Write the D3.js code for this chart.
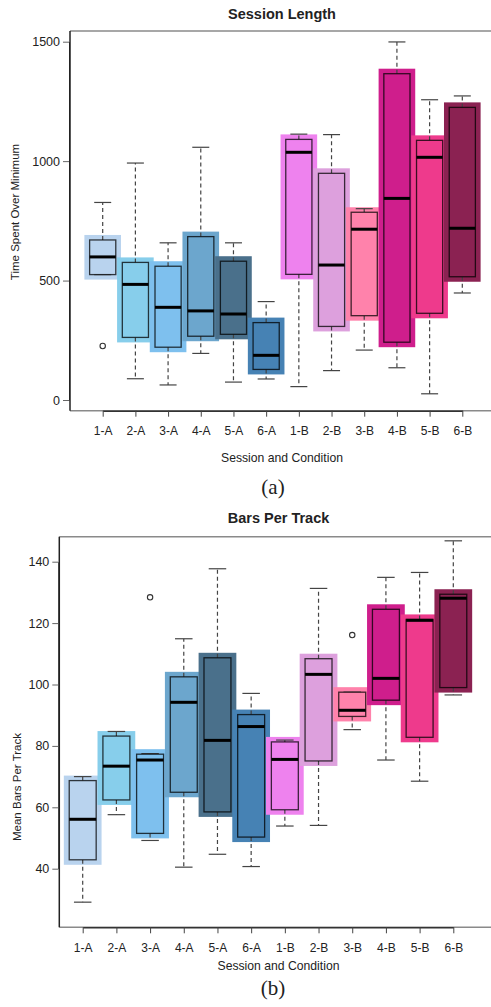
<!DOCTYPE html>
<html>
<head>
<meta charset="utf-8">
<script src="https://cdn.jsdelivr.net/npm/d3@7"></script>
<style>
  body { margin: 0; background: #fff; }
  text { font-family: "Liberation Sans", Arial, sans-serif; fill: #222; }
</style>
</head>
<body>
<div id="chart"></div>
<script>
var width = 491,
    height = 1007;

var categories = ["1-A","2-A","3-A","4-A","5-A","6-A","1-B","2-B","3-B","4-B","5-B","6-B"];
var colors = ["#b9d3ee","#87ceeb","#7ec0ee","#6ca6cd","#4a708b","#4682b4",
              "#ee82ee","#dda0dd","#ff82ab","#cf1e8c","#ee3a8c","#8b2252"];

// Session Length (time spent over minimum)
var sessionLow  = [525, 89, 63, 195, 75, 88, 56, 123, 209, 135, 26, 448];
var sessionQ1   = [525, 262, 221, 267, 275, 128, 526, 308, 353, 242, 363, 516];
var sessionMed  = [599, 484, 388, 373, 360, 187, 1037, 565, 715, 844, 1016, 719];
var sessionQ3   = [670, 576, 560, 684, 581, 324, 1091, 949, 786, 1366, 1087, 1225];
var sessionHigh = [827, 992, 658, 1058, 658, 412, 1113, 1111, 801, 1499, 1257, 1273];
var sessionOut  = [["1-A", 226]];
var sessionTicks = [0, 500, 1000, 1500];

// Bars Per Track (mean bars per track)
var barsLow  = [29.1, 57.6, 49.2, 40.5, 44.7, 40.7, 53.9, 54.1, 85.3, 75.4, 68.5, 96.6];
var barsQ1   = [42.9, 62.4, 51.5, 64.9, 58.5, 50.3, 59.2, 75.1, 89.6, 94.9, 82.8, 99.0];
var barsMed  = [56.1, 73.4, 75.4, 94.2, 81.8, 86.3, 75.6, 103.3, 91.6, 102.0, 120.9, 128.1];
var barsQ3   = [68.7, 83.2, 77.3, 102.5, 108.7, 90.2, 81.3, 108.4, 97.5, 124.5, 121.2, 129.4];
var barsHigh = [70.0, 84.7, 77.5, 114.9, 137.7, 97.1, 81.9, 131.3, 97.5, 134.9, 136.5, 146.8];
var barsOut  = [["3-A", 128.4], ["3-B", 116.1]];
var barsTicks = [40, 60, 80, 100, 120, 140];

var svg = d3.select("#chart").append("svg")
    .attr("width", width)
    .attr("height", height)
    .style("display", "block");

svg.append("rect").attr("width", width).attr("height", height).attr("fill", "#fff");

function makeRows(low, q1, med, q3, high) {
    return categories.map(function(c, i) {
        return {cat: c, color: colors[i], low: low[i], q1: q1[i], med: med[i], q3: q3[i], high: high[i]};
    });
}

function drawPanel(opt) {
    var g = svg.append("g");
    var x = d3.scalePoint().domain(categories).range(opt.xRange);
    var y = d3.scaleLinear().domain(opt.yDomain).range(opt.yRange);
    var step = x.step();
    var wideW = step * 1.12, boxW = step * 0.8, capW = step * 0.52, pad = 5;
    var rows = makeRows(opt.low, opt.q1, opt.med, opt.q3, opt.high);

    // frame
    g.append("line").attr("x1", opt.left).attr("x2", width).attr("y1", opt.top).attr("y2", opt.top)
        .attr("stroke", "#8a8a8a").attr("stroke-width", 1.5);
    g.append("line").attr("x1", opt.left).attr("x2", width).attr("y1", opt.bottom).attr("y2", opt.bottom)
        .attr("stroke", "#8a8a8a").attr("stroke-width", 1.5);
    g.append("line").attr("x1", opt.left).attr("x2", opt.left).attr("y1", opt.top).attr("y2", opt.bottom)
        .attr("stroke", "#222").attr("stroke-width", 1.5);

    // wide background bands
    g.selectAll(".band").data(rows).enter().append("rect")
        .attr("x", function(d) { return x(d.cat) - wideW / 2; })
        .attr("y", function(d) { return y(d.q3) - pad; })
        .attr("width", wideW)
        .attr("height", function(d) { return y(d.q1) - y(d.q3) + 2 * pad; })
        .attr("fill", function(d) { return d.color; });

    // whiskers
    var wh = g.selectAll(".wh").data(rows).enter().append("g");
    wh.append("line")
        .attr("x1", function(d) { return x(d.cat); }).attr("x2", function(d) { return x(d.cat); })
        .attr("y1", function(d) { return y(d.q3); }).attr("y2", function(d) { return y(d.high); })
        .attr("stroke", "#444").attr("stroke-width", 1.2).attr("stroke-dasharray", "4,3");
    wh.append("line")
        .attr("x1", function(d) { return x(d.cat); }).attr("x2", function(d) { return x(d.cat); })
        .attr("y1", function(d) { return y(d.q1); }).attr("y2", function(d) { return y(d.low); })
        .attr("stroke", "#444").attr("stroke-width", 1.2).attr("stroke-dasharray", "4,3");
    wh.append("line")
        .attr("x1", function(d) { return x(d.cat) - capW / 2; }).attr("x2", function(d) { return x(d.cat) + capW / 2; })
        .attr("y1", function(d) { return y(d.high); }).attr("y2", function(d) { return y(d.high); })
        .attr("stroke", "#444").attr("stroke-width", 1.2);
    wh.append("line")
        .attr("x1", function(d) { return x(d.cat) - capW / 2; }).attr("x2", function(d) { return x(d.cat) + capW / 2; })
        .attr("y1", function(d) { return y(d.low); }).attr("y2", function(d) { return y(d.low); })
        .attr("stroke", "#444").attr("stroke-width", 1.2);

    // boxes
    g.selectAll(".box").data(rows).enter().append("rect")
        .attr("x", function(d) { return x(d.cat) - boxW / 2; })
        .attr("y", function(d) { return y(d.q3); })
        .attr("width", boxW)
        .attr("height", function(d) { return y(d.q1) - y(d.q3); })
        .attr("fill", function(d) { return d.color; })
        .attr("stroke", "#000").attr("stroke-opacity", 0.75).attr("stroke-width", 1.3);

    // medians
    g.selectAll(".med").data(rows).enter().append("line")
        .attr("x1", function(d) { return x(d.cat) - boxW / 2; }).attr("x2", function(d) { return x(d.cat) + boxW / 2; })
        .attr("y1", function(d) { return y(d.med); }).attr("y2", function(d) { return y(d.med); })
        .attr("stroke", "#000").attr("stroke-width", 3);

    // outliers
    g.selectAll(".out").data(opt.outliers).enter().append("circle")
        .attr("cx", function(d) { return x(d[0]); })
        .attr("cy", function(d) { return y(d[1]); })
        .attr("r", 2.7)
        .attr("fill", "none").attr("stroke", "#333").attr("stroke-width", 1.1);

    // y axis
    var ya = g.append("g").attr("transform", "translate(" + (opt.left - 1) + ",0)")
        .call(d3.axisLeft(y).tickValues(opt.yTicks).tickFormat(d3.format("d"))
              .tickSize(6).tickPadding(3).tickSizeOuter(0));
    ya.select(".domain").attr("stroke", "#222");
    ya.selectAll(".tick line").attr("stroke", "#666");
    ya.selectAll("text").style("font-size", "12.5px").attr("fill", "#222");

    // x axis
    var xa = g.append("g").attr("transform", "translate(0," + opt.bottom + ")")
        .call(d3.axisBottom(x).tickSize(6).tickPadding(10).tickSizeOuter(0));
    xa.select(".domain").attr("stroke", "#333").attr("stroke-width", 1.5);
    xa.selectAll(".tick line").attr("stroke", "#444");
    xa.selectAll("text").style("font-size", "12px").attr("fill", "#222");

    // titles
    g.append("text").attr("x", opt.titleX).attr("y", opt.titleY)
        .attr("text-anchor", "middle").style("font-size", "14.5px").style("font-weight", "bold")
        .attr("fill", "#111").text(opt.title);
    g.append("text").attr("x", opt.titleX).attr("y", opt.xLabelY)
        .attr("text-anchor", "middle").style("font-size", "12.2px").text("Session and Condition");
    g.append("text").attr("transform", "translate(" + opt.yLabelX + "," + opt.yLabelY + ")rotate(-90)")
        .attr("text-anchor", "middle").style("font-size", "11.5px").text(opt.yLabel);
    g.append("text").attr("x", 273).attr("y", opt.tagY)
        .attr("text-anchor", "middle")
        .style("font-family", "'Liberation Serif', 'Times New Roman', serif")
        .style("font-size", "21px").attr("fill", "#111").text(opt.tag);
}

drawPanel({
    left: 70, top: 31, bottom: 410.7,
    xRange: [102.7, 462.3], yDomain: [0, 1500], yRange: [400, 41.7],
    yTicks: sessionTicks,
    low: sessionLow, q1: sessionQ1, med: sessionMed, q3: sessionQ3, high: sessionHigh,
    outliers: sessionOut,
    title: "Session Length", titleX: 282, titleY: 19,
    xLabelY: 461.7, yLabel: "Time Spent Over Minimum", yLabelX: 19, yLabelY: 212,
    tag: "(a)", tagY: 494
});

drawPanel({
    left: 59.3, top: 536.7, bottom: 927.3,
    xRange: [82.7, 453.3], yDomain: [40, 140], yRange: [868.7, 561.7],
    yTicks: barsTicks,
    low: barsLow, q1: barsQ1, med: barsMed, q3: barsQ3, high: barsHigh,
    outliers: barsOut,
    title: "Bars Per Track", titleX: 278.5, titleY: 522.7,
    xLabelY: 970, yLabel: "Mean Bars Per Track", yLabelX: 21, yLabelY: 787,
    tag: "(b)", tagY: 995
});
</script>
</body>
</html>
